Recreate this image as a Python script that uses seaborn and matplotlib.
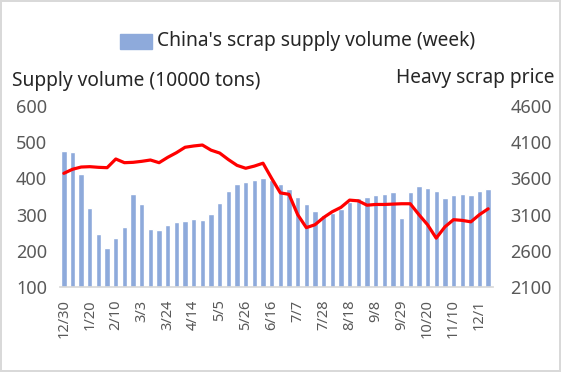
import numpy as np
import pandas as pd
import matplotlib
matplotlib.use("Agg")
import matplotlib.pyplot as plt
import seaborn as sns

# weekly labels (12/30 through 12/8)
weeks = ["12/30", "1/6", "1/13", "1/20", "1/27", "2/3", "2/10", "2/17", "2/24",
         "3/3", "3/10", "3/17", "3/24", "3/31", "4/7", "4/14", "4/21", "4/28",
         "5/5", "5/12", "5/19", "5/26", "6/2", "6/9", "6/16", "6/23", "6/30",
         "7/7", "7/14", "7/21", "7/28", "8/4", "8/11", "8/18", "8/25", "9/1",
         "9/8", "9/15", "9/22", "9/29", "10/6", "10/13", "10/20", "10/27",
         "11/3", "11/10", "11/17", "11/24", "12/1", "12/8"]

# China's scrap supply volume (10000 tons)
supply = [476, 474, 411, 319, 246, 207, 236, 267, 356, 329, 260, 257, 271,
          280, 281, 288, 286, 303, 333, 365, 385, 390, 395, 400, 395, 385,
          370, 350, 330, 310, 300, 305, 315, 335, 345, 350, 355, 358, 363,
          291, 363, 379, 373, 365, 347, 353, 357, 353, 366, 371]

# heavy scrap price
price = [3670, 3726, 3757, 3762, 3753, 3748, 3868, 3817, 3822, 3836, 3854,
         3817, 3891, 3955, 4030, 4048, 4061, 3990, 3950, 3860, 3780, 3740,
         3770, 3810, 3600, 3400, 3380, 3100, 2920, 2960, 3060, 3140, 3200,
         3300, 3290, 3230, 3240, 3240, 3245, 3250, 3250, 3100, 2960, 2775,
         2930, 3030, 3020, 3000, 3100, 3180]

df = pd.DataFrame({"week": weeks, "supply": supply, "price": price})
df["pos"] = np.arange(len(df))

sns.set_theme(style="white")
plt.rcParams["font.family"] = ["Noto Sans", "DejaVu Sans"]

grey = "#595959"
fig = plt.figure(figsize=(5.61, 3.72), dpi=100)
fig.patch.set_edgecolor("#d9d9d9")
fig.patch.set_linewidth(1.5)

ax = fig.add_axes([59.5 / 561, 1 - 287 / 372, 433 / 561, 181 / 372])
sns.barplot(data=df, x="pos", y="supply", color="#8eaadb", width=0.62,
            saturation=1, ax=ax)
ax.set_ylim(100, 600)
ax.set_xlim(-0.5, len(df) - 0.5)
ax.set_yticks(range(100, 601, 100))
ax.set_xticks(range(0, len(df), 3))
ax.set_xticklabels(weeks[::3], rotation=90, fontsize=10.5, color=grey)
ax.tick_params(axis="y", labelsize=13, labelcolor=grey, length=0, pad=9)
ax.tick_params(axis="x", length=0, pad=9)
ax.set_xlabel("")
ax.set_ylabel("")
for s in ["top", "right", "left"]:
    ax.spines[s].set_visible(False)
ax.spines["bottom"].set_color("#d9d9d9")

ax2 = ax.twinx()
sns.lineplot(data=df, x="pos", y="price", color="#ff0000", linewidth=2.3,
             ax=ax2)
ax2.set_ylim(2100, 4600)
ax2.set_yticks(range(2100, 4601, 500))
ax2.tick_params(axis="y", labelsize=13, labelcolor=grey, length=0, pad=13)
ax2.set_ylabel("")
for s in ["top", "right", "left", "bottom"]:
    ax2.spines[s].set_visible(False)

fig.text(12 / 561, 1 - 81 / 372, "Supply volume (10000 tons)", fontsize=13.8,
         color="#262626", va="center", ha="left")
fig.text(554 / 561, 1 - 78 / 372, "Heavy scrap price", fontsize=13.8,
         color="#262626", va="center", ha="right")

# legend
fig.patches.append(plt.Rectangle((120 / 561, 1 - 49 / 372), 32 / 561, 15 / 372,
                                 transform=fig.transFigure, color="#8eaadb",
                                 figure=fig))
fig.text(157 / 561, 1 - 41 / 372, "China's scrap supply volume (week)",
         fontsize=13.8, color="#262626", va="center", ha="left")

fig.savefig("out.png", dpi=100)
